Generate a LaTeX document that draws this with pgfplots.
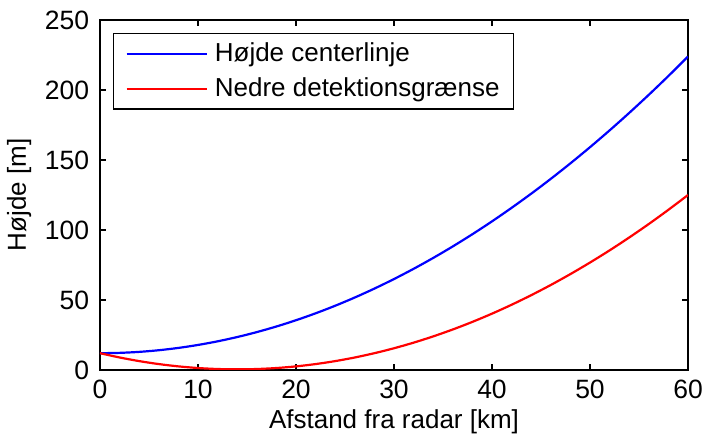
\documentclass[border=0pt]{standalone}
\usepackage{fontspec}
\setmainfont{Liberation Sans}
\usepackage{pgfplots}
\pgfplotsset{compat=1.18}
\begin{document}
\fontsize{26}{31}\selectfont
\begin{tikzpicture}
\begin{axis}[
  at={(0pt,0pt)}, anchor=south west,
  scale only axis, width=588pt, height=350pt,
  xmin=0, xmax=60, ymin=0, ymax=250,
  xtick={0,10,...,60}, ytick={0,50,...,250},
  tick align=inside, major tick length=6pt,
  tick style={line width=1.3pt, black},
  axis line style={line width=1.5pt},
  /pgf/number format/assume math mode=true,
  ticklabel style={font=\fontsize{26.5}{31}\selectfont},
  xticklabel style={yshift=-1pt},
  yticklabel style={xshift=-2pt},
  label style={font=\fontsize{26}{31}\selectfont},
  xlabel={Afstand fra radar [km]},
  ylabel={Højde [m]},
  xlabel style={yshift=6pt},
  ylabel style={yshift=-4pt},
  legend style={at={(13pt,337pt)}, anchor=north west, draw=black, line width=1.3pt,
    font=\fontsize{26}{31}\selectfont, inner xsep=12pt, inner ysep=7pt, row sep=8pt,
    column sep=5pt, legend cell align=left},
  legend image code/.code={\draw[#1, line width=2.2pt] (0pt,0pt) -- (80pt,0pt);},
]
\addplot[blue, line width=2.2pt, smooth] coordinates {
(0,12.00) (2,12.24) (4,12.94) (6,14.12) (8,15.77) (10,17.89) (12,20.48) (14,23.54)
(16,27.07) (18,31.07) (20,35.54) (22,40.49) (24,45.90) (26,51.79) (28,58.15) (30,64.97)
(32,72.27) (34,80.04) (36,88.28) (38,96.99) (40,106.17) (42,115.83) (44,125.95) (46,136.54)
(48,147.61) (50,159.15) (52,171.15) (54,183.63) (56,196.58) (58,210.00) (60,223.89)};
\addlegendentry{Højde centerlinje}
\addplot[red, line width=2.2pt, smooth] coordinates {
(0,12.00) (2,8.94) (4,6.35) (6,4.23) (8,2.59) (10,1.41) (12,0.70) (14,0.47)
(16,0.70) (18,1.41) (20,2.58) (22,4.23) (24,6.35) (26,8.94) (28,12.01) (30,15.53)
(32,19.53) (34,24.01) (36,28.95) (38,34.37) (40,40.25) (42,46.61) (44,53.44) (46,60.73)
(48,68.51) (50,76.75) (52,85.45) (54,94.64) (56,104.29) (58,114.42) (60,125.01)};
\addlegendentry{Nedre detektionsgrænse}
\end{axis}
\pgfresetboundingbox
\path[use as bounding box] (-100pt,-71pt) rectangle (604pt,370pt);
\end{tikzpicture}
\end{document}
